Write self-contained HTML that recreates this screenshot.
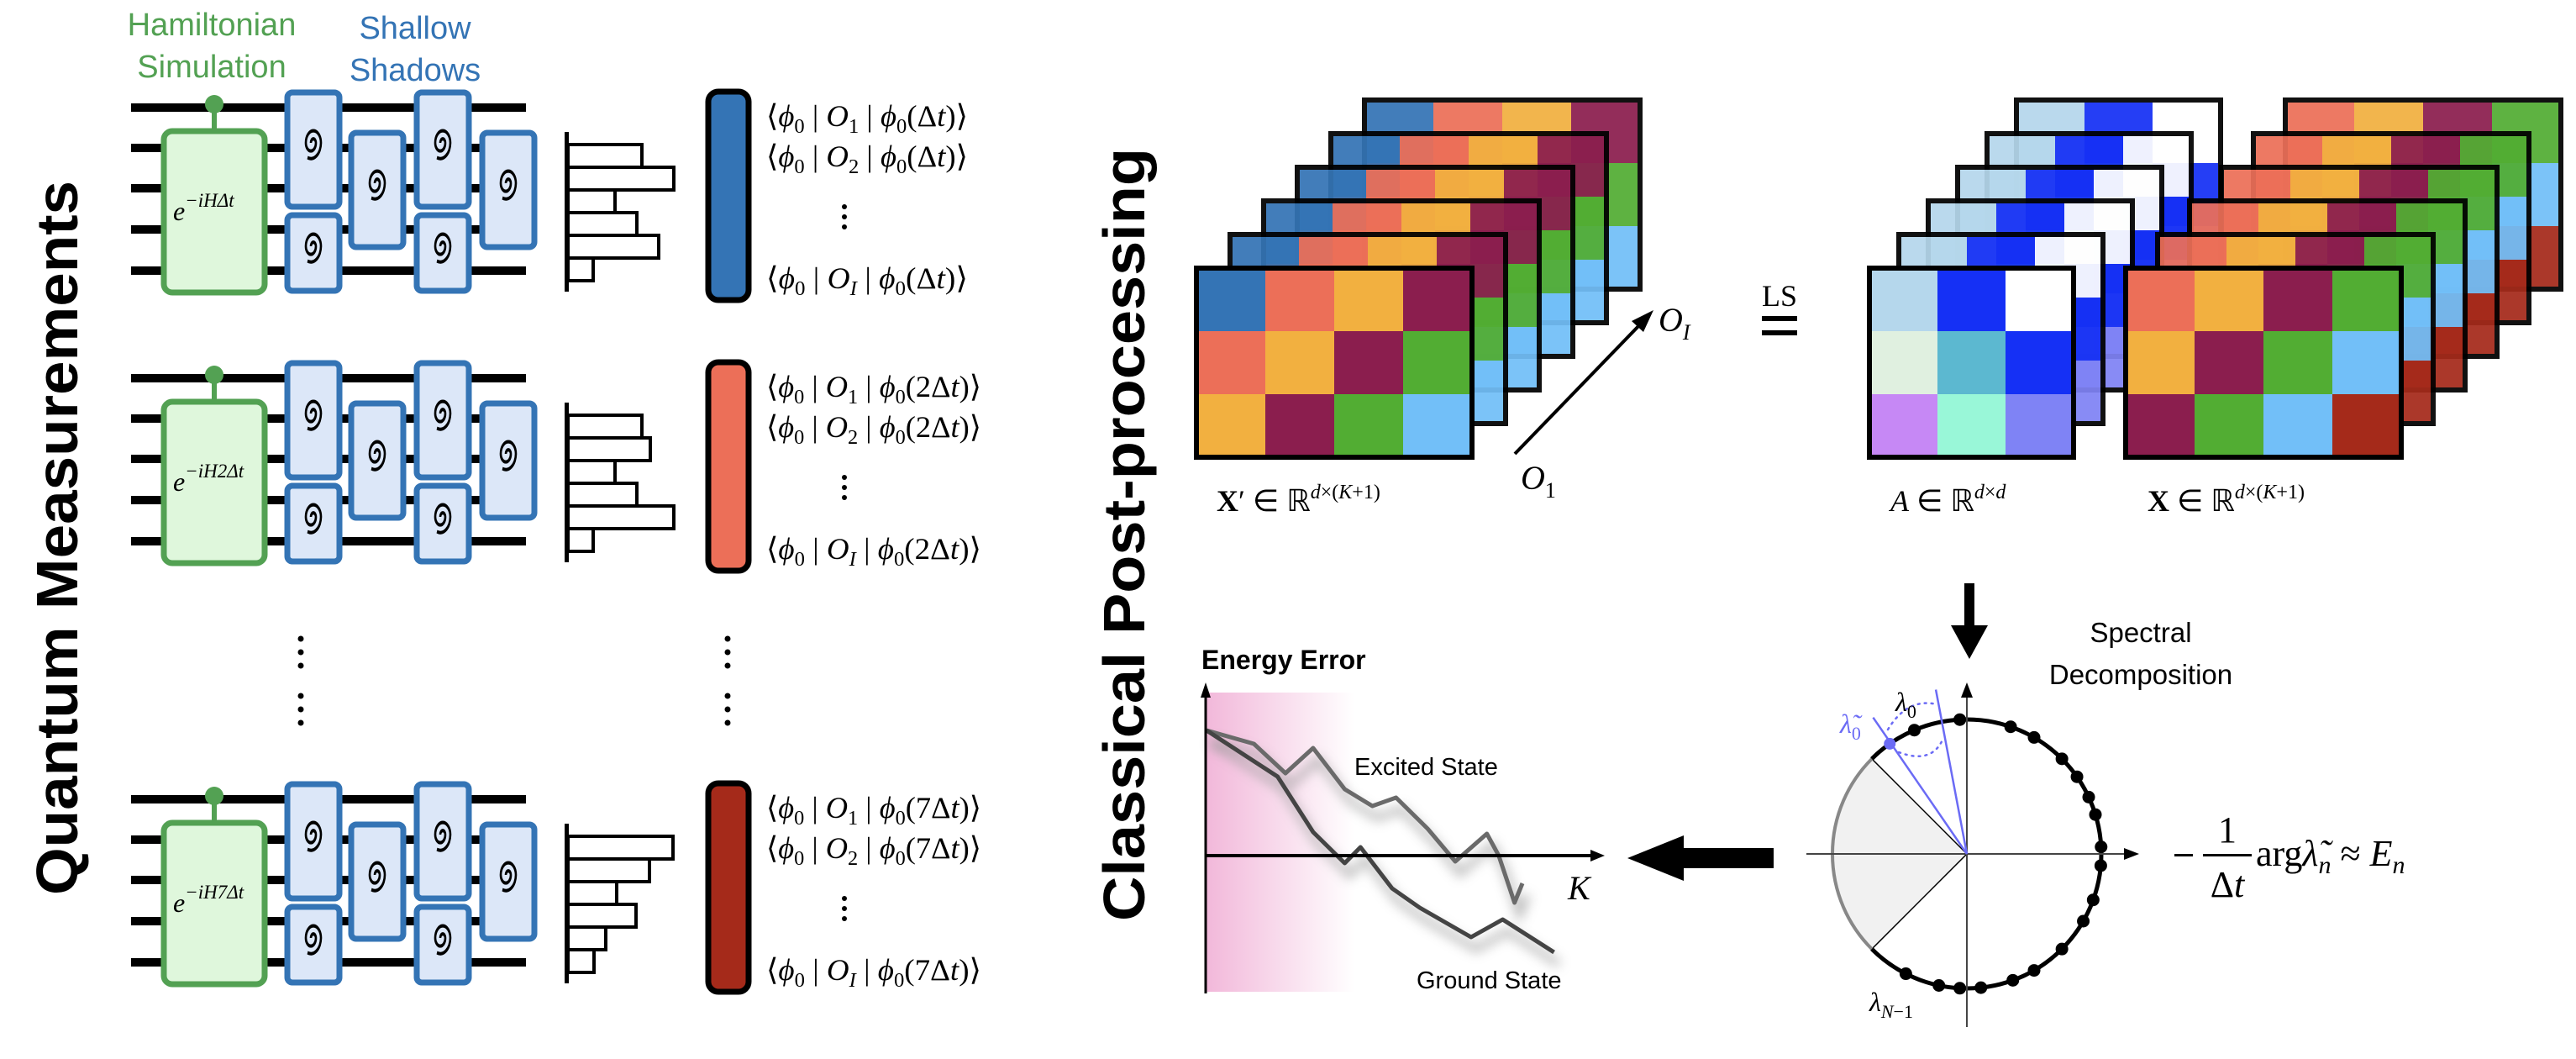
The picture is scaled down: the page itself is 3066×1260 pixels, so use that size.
<!DOCTYPE html>
<html><head><meta charset="utf-8"><style>
html,body{margin:0;padding:0;background:#fff;}
svg{display:block;}
.ser{font-family:"Liberation Serif",serif;}
.san{font-family:"Liberation Sans",sans-serif;}
</style></head><body>
<svg id="root" width="3066" height="1260" viewBox="0 0 3066 1260" xmlns="http://www.w3.org/2000/svg">
<defs>
<linearGradient id="pink" x1="0" x2="1" y1="0" y2="0">
<stop offset="0" stop-color="#f2b8da"/><stop offset="1" stop-color="#ffffff"/>
</linearGradient>
<filter id="blur" x="-20%" y="-20%" width="140%" height="140%"><feGaussianBlur stdDeviation="7"/></filter>
</defs>

<text class="san" x="0" y="0" transform="translate(92,640) rotate(-90)" text-anchor="middle" font-size="70" font-weight="bold" textLength="850" lengthAdjust="spacingAndGlyphs">Quantum Measurements</text>
<text class="san" x="0" y="0" transform="translate(1362,636) rotate(-90)" text-anchor="middle" font-size="70" font-weight="bold" textLength="920" lengthAdjust="spacingAndGlyphs">Classical Post-processing</text>

<g class="san" font-size="38">
<text x="252" y="42" text-anchor="middle" fill="#53a153">Hamiltonian</text>
<text x="252" y="92" text-anchor="middle" fill="#53a153">Simulation</text>
<text x="494" y="46" text-anchor="middle" fill="#3474b5">Shallow</text>
<text x="494" y="96" text-anchor="middle" fill="#3474b5">Shadows</text>
</g>

<g id="circuits"></g>

<g fill="#000">
<circle cx="358" cy="760" r="3.5"/><circle cx="358" cy="776" r="3.5"/><circle cx="358" cy="792" r="3.5"/>
<circle cx="358" cy="828" r="3.5"/><circle cx="358" cy="844" r="3.5"/><circle cx="358" cy="860" r="3.5"/>
<circle cx="866" cy="760" r="3.5"/><circle cx="866" cy="776" r="3.5"/><circle cx="866" cy="792" r="3.5"/>
<circle cx="866" cy="828" r="3.5"/><circle cx="866" cy="844" r="3.5"/><circle cx="866" cy="860" r="3.5"/>
</g>

<g id="stacks"></g>

<g>
<line x1="1803" y1="540" x2="1955" y2="383" stroke="#000" stroke-width="4"/>
<polygon points="1968,369 1942,382 1956,395" fill="#000"/>
<text class="ser" x="1974" y="394" font-size="40" font-style="italic">O<tspan font-size="26" dy="10">I</tspan></text>
<text class="ser" x="1810" y="582" font-size="40" font-style="italic">O<tspan font-size="26" dy="10" font-style="normal">1</tspan></text>
</g>

<g class="ser" font-size="36">
<text x="1448" y="608"><tspan font-weight="bold">X</tspan>′ ∈ ℝ<tspan font-size="24" dy="-15" font-style="italic">d</tspan><tspan font-size="24">×(</tspan><tspan font-size="24" font-style="italic">K</tspan><tspan font-size="24">+1)</tspan></text>
<text x="2250" y="608"><tspan font-style="italic">A</tspan> ∈ ℝ<tspan font-size="24" dy="-15" font-style="italic">d</tspan><tspan font-size="24">×</tspan><tspan font-size="24" font-style="italic">d</tspan></text>
<text x="2556" y="608"><tspan font-weight="bold">X</tspan> ∈ ℝ<tspan font-size="24" dy="-15" font-style="italic">d</tspan><tspan font-size="24">×(</tspan><tspan font-size="24" font-style="italic">K</tspan><tspan font-size="24">+1)</tspan></text>
<text x="2118" y="364" text-anchor="middle" font-size="36">LS</text>
<rect x="2097" y="376" width="42" height="6" fill="#000"/>
<rect x="2097" y="393" width="42" height="6" fill="#000"/>
</g>

<g>
<rect x="2338" y="694" width="12" height="52" fill="#000"/>
<polygon points="2322,744 2366,744 2344,784" fill="#000"/>
</g>
<g class="san" font-size="33">
<text x="2548" y="764" text-anchor="middle">Spectral</text>
<text x="2548" y="814" text-anchor="middle">Decomposition</text>
</g>

<g>
<rect x="2000" y="1009" width="111" height="24" fill="#000"/>
<polygon points="1937,1021 2004,994 2004,1048" fill="#000"/>
</g>

<g id="unitcircle"></g>

<g class="ser" font-size="44">
<rect x="2588" y="1016" width="22" height="3" fill="#000"/>
<rect x="2622" y="1016" width="58" height="3" fill="#000"/>
<text x="2651" y="1002" text-anchor="middle">1</text>
<text x="2651" y="1067" text-anchor="middle">Δ<tspan font-style="italic">t</tspan></text>
<text x="2685" y="1030">arg<tspan font-style="italic">λ̃</tspan><tspan font-size="30" dy="9" font-style="italic">n</tspan><tspan dy="-9"> ≈ </tspan><tspan font-style="italic">E</tspan><tspan font-size="30" dy="9" font-style="italic">n</tspan></text>
</g>

<g id="energychart"></g>
</svg>

<script>
// ---------- chart data ----------
var excitedK = [0, 12, 20, 27, 35, 42, 48, 56, 63, 71, 74, 78, 80];
var excitedErr = [1.49, 1.33, 0.98, 1.28, 0.79, 0.59, 0.69, 0.32, -0.07, 0.26, 0.00, -0.56, -0.33];
var groundK = [0, 18, 27, 35, 39, 47, 54, 67, 75, 82, 88];
var groundErr = [1.49, 0.94, 0.28, -0.09, 0.10, -0.39, -0.62, -0.97, -0.76, -0.97, -1.15];
var hist1 = [88, 126, 56, 82, 108, 30];
var hist2 = [88, 98, 56, 82, 126, 30];
var hist3 = [125, 97, 58, 81, 45, 31];
var eigenAngles = [93, 113, 71, 60, 45, 35, 25, 17, 3, -5, -20, -30, -45, -60, -70, -84, -93, -102, -117];

var NS = "http://www.w3.org/2000/svg";
function mk(tag, attrs, parent) {
  var e = document.createElementNS(NS, tag);
  for (var k in attrs) e.setAttribute(k, attrs[k]);
  parent.appendChild(e);
  return e;
}

// ---------- circuits ----------
var circuitsG = document.getElementById('circuits');
var barColors = ['#3474b5', '#ec6f58', '#a52a1a'];
var timeLabels = ['Δ', '2Δ', '7Δ'];
var hists = [hist1, hist2, hist3];
var offsets = [0, 322, 823];
function spiral(g, cx, cy) {
  var p = mk('path', {d: 'M0,0 a3,3 0 0 1 6,0 a6,6 0 0 1 -12,0 a9,9 0 0 1 18,0 a12,12 0 0 1 -16,11',
    transform: 'translate(' + cx + ',' + cy + ') scale(1,1.6)', fill: 'none', stroke: '#000', 'stroke-width': 2.6}, g);
  
  
}
for (var c = 0; c < 3; c++) {
  var oy = offsets[c];
  var g = mk('g', {}, circuitsG);
  
  
  var wires = [128, 176, 224, 273, 322];
  for (var w = 0; w < 5; w++) {
    mk('rect', {x: 156, y: wires[w] + oy - 5, width: 470, height: 10, fill: '#000'}, g);
  }
  var box = mk('rect', {x: 195, y: 156 + oy, width: 120, height: 192, rx: 10, fill: '#dff7dc', stroke: '#53a153', 'stroke-width': 7}, g);
  
  
  mk('rect', {x: 252, y: 128 + oy, width: 6, height: 28, fill: '#53a153'}, g);
  mk('circle', {cx: 255, cy: 124 + oy, r: 11, fill: '#53a153'}, g);
  var t = mk('text', {x: 206, y: 262 + oy, 'font-size': 32, 'font-style': 'italic', 'class': 'ser'}, g);
  t.textContent = 'e';
  var ts = mk('tspan', {'font-size': 23, dy: -16}, t);
  ts.textContent = '−iH' + (c === 0 ? '' : (c === 1 ? '2' : '7')) + 'Δt';
  var gates = [[342, 110, 246], [342, 256, 346], [418, 158, 294], [496, 110, 246], [496, 256, 346], [574, 158, 294]];
  for (var i = 0; i < gates.length; i++) {
    var gt = gates[i];
    var r = mk('rect', {x: gt[0], y: gt[1] + oy, width: 62, height: gt[2] - gt[1], rx: 6, fill: '#dce7f8', stroke: '#3474b5', 'stroke-width': 7}, g);
    
    
    spiral(g, gt[0] + 28, (gt[1] + gt[2]) / 2 + oy - 8);
  }
  var hg = mk('g', {}, g);
  
  
  var h = hists[c];
  var rowH = 27, y0 = 172 + oy;
  for (var b = 0; b < h.length; b++) {
    var br = mk('rect', {x: 676, y: y0 + b * rowH, width: h[b], height: rowH, fill: '#fff', stroke: '#000', 'stroke-width': 4}, hg);
    
    
  }
  mk('rect', {x: 672, y: 157 + oy, width: 5, height: 190, fill: '#000'}, hg);
  var cb = mk('rect', {x: 843, y: 109 + oy, width: 48, height: 248, rx: 12, fill: barColors[c], stroke: '#000', 'stroke-width': 7}, g);
  
  
  var subs = ['1', '2', null, 'I'];
  var ys = [150, 198, 0, 343];
  for (var k = 0; k < 4; k++) {
    if (subs[k] === null) {
      mk('circle', {cx: 1005, cy: 246 + oy, r: 3, fill: '#000'}, g);
      mk('circle', {cx: 1005, cy: 258 + oy, r: 3, fill: '#000'}, g);
      mk('circle', {cx: 1005, cy: 270 + oy, r: 3, fill: '#000'}, g);
      continue;
    }
    var tx = mk('text', {x: 912, y: ys[k] + oy, 'font-size': 36, 'class': 'ser', textLength: (c === 0 ? 240 : 256), lengthAdjust: 'spacingAndGlyphs'}, g);
    
    
    tx.innerHTML = '⟨<tspan font-style="italic">ϕ</tspan><tspan font-size="24" dy="8">0</tspan><tspan dy="-8"> | </tspan><tspan font-style="italic">O</tspan><tspan font-size="24" dy="8" font-style="' + (subs[k] === 'I' ? 'italic' : 'normal') + '">' + subs[k] + '</tspan><tspan dy="-8"> | </tspan><tspan font-style="italic">ϕ</tspan><tspan font-size="24" dy="8">0</tspan><tspan dy="-8">(' + timeLabels[c] + '</tspan><tspan font-style="italic">t</tspan>)⟩';
  }
}

// ---------- matrix stacks ----------
var stacksG = document.getElementById('stacks');
var xColors = [['#3474b5', '#ec6f58', '#f2b040', '#8b1e4e'], ['#ec6f58', '#f2b040', '#8b1e4e', '#52ad33'], ['#f2b040', '#8b1e4e', '#52ad33', '#72bff8']];
var aColors = [['#b5d7ec', '#1530f5', '#ffffff'], ['#e0f0e0', '#5cb8d0', '#1530f5'], ['#c688f5', '#99f7d8', '#7f83f5']];
var xsColors = [['#ec6f58', '#f2b040', '#8b1e4e', '#52ad33'], ['#f2b040', '#8b1e4e', '#52ad33', '#72bff8'], ['#8b1e4e', '#52ad33', '#72bff8', '#a52a1a']];
function stack(name, fx, fy, cw, chh, colors, n, dx, dy) {
  var sg = mk('g', {}, stacksG);
  
  
  var cols = colors[0].length, rows = colors.length;
  for (var f = n - 1; f >= 0; f--) {
    var x0 = fx + f * dx, y0 = fy - f * dy;
    var fg = mk('g', {opacity: f === 0 ? 1 : 0.93}, sg);
    
    
    for (var r = 0; r < rows; r++) for (var c = 0; c < cols; c++) {
      mk('rect', {x: x0 + c * cw, y: y0 + r * chh, width: cw + 0.5, height: chh + 0.5, fill: colors[r][c]}, fg);
    }
    mk('rect', {x: x0, y: y0, width: cols * cw, height: rows * chh, fill: 'none', stroke: '#000', 'stroke-width': 6}, fg);
  }
}
stack('x-prime-stack', 1424, 319, 82, 75, xColors, 6, 40, 40);
stack('a-stack', 2225, 319, 81, 75, aColors, 6, 35, 40);
stack('x-stack', 2530, 319, 82, 75, xsColors, 6, 38, 40);

// ---------- unit circle ----------
var uc = document.getElementById('unitcircle');
var cx = 2341, cy = 1016, R = 160;
function pt(a, r) { var rad = a * Math.PI / 180; return [cx + r * Math.cos(rad), cy - r * Math.sin(rad)]; }
var p1 = pt(135, R), p2 = pt(225, R);
mk('path', {d: 'M' + cx + ',' + cy + ' L' + p1[0] + ',' + p1[1] + ' A' + R + ',' + R + ' 0 0 0 ' + p2[0] + ',' + p2[1] + ' Z', fill: '#f1f1f1', stroke: '#000', 'stroke-width': 1.5}, uc);
mk('path', {d: 'M' + p1[0] + ',' + p1[1] + ' A' + R + ',' + R + ' 0 0 0 ' + p2[0] + ',' + p2[1], fill: 'none', stroke: '#888', 'stroke-width': 4}, uc);
mk('path', {d: 'M' + p2[0] + ',' + p2[1] + ' A' + R + ',' + R + ' 0 1 0 ' + p1[0] + ',' + p1[1], fill: 'none', stroke: '#000', 'stroke-width': 5}, uc);
mk('line', {x1: 2150, y1: cy, x2: 2530, y2: cy, stroke: '#444', 'stroke-width': 2}, uc);
mk('polygon', {points: '2546,' + cy + ' 2528,' + (cy - 7) + ' 2528,' + (cy + 7), fill: '#000'}, uc);
mk('line', {x1: cx, y1: 1222, x2: cx, y2: 830, stroke: '#444', 'stroke-width': 2}, uc);
mk('polygon', {points: cx + ',812 ' + (cx - 7) + ',830 ' + (cx + 7) + ',830', fill: '#000'}, uc);
for (var i = 0; i < eigenAngles.length; i++) {
  var p = pt(eigenAngles[i], R);
  var d = mk('circle', {cx: p[0], cy: p[1], r: 7.5, fill: '#000'}, uc);
  
  
}
var b1 = pt(124.5, 197), b2 = pt(100.7, 199), bd = pt(125, R);
mk('line', {x1: cx, y1: cy, x2: b1[0], y2: b1[1], stroke: '#6b6bf5', 'stroke-width': 2.5}, uc);
mk('line', {x1: cx, y1: cy, x2: b2[0], y2: b2[1], stroke: '#6b6bf5', 'stroke-width': 2.5}, uc);
mk('circle', {cx: bd[0], cy: bd[1], r: 7, fill: '#6b6bf5'}, uc);
mk('path', {d: 'M2247,868 Q2270,830 2305,838 M2260,895 Q2300,910 2313,878', fill: 'none', stroke: '#6b6bf5', 'stroke-width': 2.5, 'stroke-dasharray': '2 6', 'stroke-linecap': 'round'}, uc);
var l1 = mk('text', {x: 2190, y: 872, 'font-size': 32, fill: '#6b6bf5', 'class': 'ser', 'font-style': 'italic'}, uc);
l1.innerHTML = 'λ̃<tspan font-size="22" dy="8" font-style="normal">0</tspan>';
var l2 = mk('text', {x: 2256, y: 846, 'font-size': 32, 'class': 'ser', 'font-style': 'italic'}, uc);
l2.innerHTML = 'λ<tspan font-size="22" dy="8" font-style="normal">0</tspan>';
var l3 = mk('text', {x: 2225, y: 1203, 'font-size': 32, 'class': 'ser', 'font-style': 'italic'}, uc);
l3.innerHTML = 'λ<tspan font-size="22" dy="8">N</tspan><tspan font-size="22" font-style="normal">−1</tspan>';

// ---------- energy chart ----------
var ec = document.getElementById('energychart');
function xS(k) { return 1436 + k * 4.7; }
function yS(v) { return 1018 - v * 100; }
var bg = mk('rect', {x: 1436, y: 824, width: 176, height: 356, fill: 'url(#pink)'}, ec);


function linePath(ks, vs) {
  var d = '';
  for (var i = 0; i < ks.length; i++) d += (i ? 'L' : 'M') + xS(ks[i]).toFixed(1) + ',' + yS(vs[i]).toFixed(1);
  return d;
}
var series = [[excitedK, excitedErr, '#6a6a6a', 'excited-state-line'], [groundK, groundErr, '#444', 'ground-state-line']];
for (var s = 0; s < series.length; s++) {
  var dd = linePath(series[s][0], series[s][1]);
  mk('path', {d: dd, transform: 'translate(6,14)', fill: 'none', stroke: '#999', 'stroke-width': 8, filter: 'url(#blur)', opacity: 0.7}, ec);
  var ln = mk('path', {d: dd, fill: 'none', stroke: series[s][2], 'stroke-width': 5, 'stroke-linejoin': 'round'}, ec);
  
  
}
mk('line', {x1: 1435, y1: 1182, x2: 1435, y2: 826, stroke: '#000', 'stroke-width': 3}, ec);
mk('polygon', {points: '1435,812 1429,830 1441,830', fill: '#000'}, ec);
mk('line', {x1: 1435, y1: 1018, x2: 1895, y2: 1018, stroke: '#000', 'stroke-width': 4}, ec);
mk('polygon', {points: '1910,1018 1893,1011 1893,1025', fill: '#000'}, ec);
var t1 = mk('text', {x: 1430, y: 796, 'font-size': 32, 'font-weight': 'bold', 'class': 'san'}, ec);
t1.textContent = 'Energy Error';
var t2 = mk('text', {x: 1612, y: 922, 'font-size': 29, 'class': 'san'}, ec);
t2.textContent = 'Excited State';
var t3 = mk('text', {x: 1686, y: 1176, 'font-size': 29, 'class': 'san'}, ec);
t3.textContent = 'Ground State';
var t4 = mk('text', {x: 1866, y: 1070, 'font-size': 40, 'font-style': 'italic', 'class': 'ser'}, ec);
t4.textContent = 'K';
</script>
</body></html>
